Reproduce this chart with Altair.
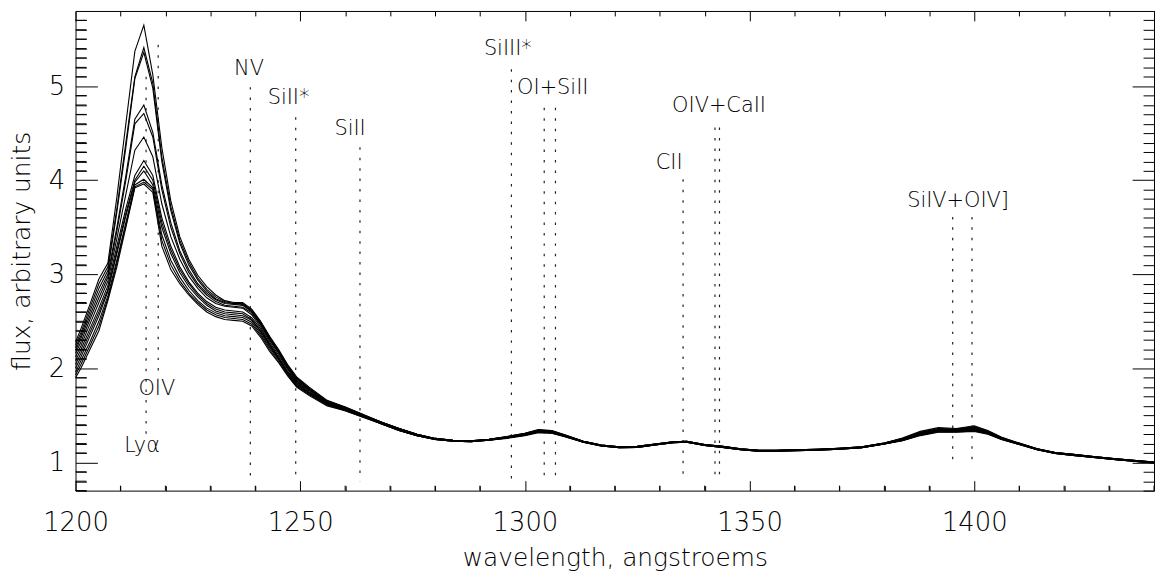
import altair as alt
import pandas as pd

# ---------------- data ----------------
wave_a = [1200, 1201.2, 1203.2, 1205.2, 1207.2, 1209.2, 1211.2, 1213.2, 1215.2, 1217.2,
          1219.2, 1221.2, 1223.2, 1225.2, 1227.2, 1229.2, 1231.2, 1233.2, 1235.2, 1237.2,
          1239.2, 1241.2, 1243.2, 1245.2, 1247.2, 1249.2, 1252, 1256, 1260, 1264]
wave_b = [1268, 1272, 1276, 1280, 1284, 1288, 1292]
wave_c = [1296, 1300, 1303, 1306, 1309]
wave_d = [1313, 1317, 1321, 1325, 1329, 1333, 1336, 1340, 1344, 1348, 1352, 1356,
          1360, 1365, 1370, 1375, 1380]
wave_e = [1384, 1388, 1392, 1396, 1400, 1403, 1406, 1410]
wave_f = [1414, 1418, 1422, 1426, 1431, 1436, 1440]
wave = wave_a + wave_b + wave_c + wave_d + wave_e + wave_f

# Ly-alpha / NV region, one list per spectrum
a01 = [2.28, 2.42, 2.68, 2.95, 3.12, 3.82, 4.60, 5.37, 5.65, 5.12, 4.35, 3.78, 3.40, 3.16, 2.99, 2.87, 2.78, 2.72, 2.70, 2.70, 2.63, 2.50, 2.34, 2.20, 2.04, 1.91, 1.80, 1.66, 1.59, 1.51]
a02 = [2.25, 2.38, 2.64, 2.90, 3.08, 3.70, 4.40, 5.10, 5.41, 5.03, 4.25, 3.72, 3.36, 3.13, 2.96, 2.84, 2.76, 2.71, 2.69, 2.69, 2.62, 2.49, 2.33, 2.19, 2.03, 1.90, 1.79, 1.65, 1.59, 1.51]
a03 = [2.22, 2.35, 2.60, 2.85, 3.04, 3.66, 4.35, 5.08, 5.36, 4.98, 4.20, 3.68, 3.33, 3.10, 2.94, 2.82, 2.74, 2.70, 2.69, 2.68, 2.61, 2.48, 2.32, 2.18, 2.02, 1.89, 1.78, 1.65, 1.58, 1.50]
a04 = [2.19, 2.32, 2.56, 2.80, 3.00, 3.50, 4.05, 4.65, 4.80, 4.51, 3.95, 3.55, 3.25, 3.05, 2.90, 2.80, 2.73, 2.69, 2.68, 2.67, 2.60, 2.47, 2.31, 2.17, 2.01, 1.88, 1.78, 1.64, 1.58, 1.50]
a05 = [2.16, 2.28, 2.52, 2.75, 2.97, 3.46, 4.00, 4.60, 4.71, 4.46, 3.90, 3.50, 3.22, 3.02, 2.88, 2.78, 2.71, 2.67, 2.66, 2.65, 2.59, 2.46, 2.30, 2.16, 2.00, 1.87, 1.77, 1.64, 1.58, 1.50]
a06 = [2.12, 2.24, 2.47, 2.70, 2.93, 3.38, 3.85, 4.32, 4.46, 4.25, 3.75, 3.40, 3.16, 2.98, 2.85, 2.75, 2.69, 2.66, 2.65, 2.64, 2.57, 2.44, 2.28, 2.14, 1.99, 1.86, 1.76, 1.63, 1.57, 1.50]
a07 = [2.08, 2.20, 2.42, 2.64, 2.88, 3.30, 3.70, 4.05, 4.21, 4.05, 3.60, 3.30, 3.08, 2.92, 2.80, 2.71, 2.65, 2.62, 2.61, 2.60, 2.54, 2.42, 2.26, 2.12, 1.97, 1.85, 1.75, 1.63, 1.57, 1.49]
a08 = [2.04, 2.16, 2.38, 2.60, 2.84, 3.25, 3.65, 4.00, 4.15, 4.00, 3.55, 3.26, 3.05, 2.90, 2.78, 2.69, 2.63, 2.60, 2.59, 2.58, 2.52, 2.40, 2.25, 2.11, 1.96, 1.84, 1.74, 1.62, 1.56, 1.49]
a09 = [2.00, 2.12, 2.34, 2.56, 2.82, 3.22, 3.62, 3.98, 4.10, 3.95, 3.50, 3.22, 3.02, 2.87, 2.76, 2.67, 2.61, 2.58, 2.57, 2.56, 2.51, 2.39, 2.24, 2.10, 1.95, 1.83, 1.74, 1.62, 1.56, 1.49]
a10 = [1.96, 2.08, 2.28, 2.50, 2.77, 3.15, 3.55, 3.95, 4.01, 3.92, 3.42, 3.15, 2.97, 2.83, 2.72, 2.64, 2.59, 2.56, 2.55, 2.54, 2.49, 2.37, 2.22, 2.09, 1.94, 1.82, 1.73, 1.61, 1.56, 1.49]
a11 = [1.93, 2.04, 2.24, 2.45, 2.74, 3.12, 3.52, 3.93, 3.98, 3.90, 3.36, 3.10, 2.93, 2.80, 2.70, 2.62, 2.57, 2.54, 2.53, 2.52, 2.47, 2.35, 2.20, 2.07, 1.93, 1.81, 1.72, 1.61, 1.55, 1.48]
a12 = [1.90, 2.00, 2.20, 2.40, 2.72, 3.08, 3.50, 3.92, 3.96, 3.87, 3.30, 3.05, 2.90, 2.78, 2.68, 2.60, 2.55, 2.52, 2.51, 2.50, 2.45, 2.33, 2.18, 2.06, 1.92, 1.80, 1.71, 1.60, 1.55, 1.48]

# smooth continuum pieces: upper / middle / lower members of the bundle
b_hi = [1.43, 1.36, 1.30, 1.255, 1.235, 1.23, 1.245]
b_mid = [1.42, 1.35, 1.29, 1.25, 1.23, 1.225, 1.24]
b_lo = [1.41, 1.34, 1.285, 1.245, 1.225, 1.22, 1.235]

# OI + SiII bump, one list per spectrum
c01 = [1.275, 1.31, 1.35, 1.34, 1.29]
c02 = [1.275, 1.31, 1.345, 1.335, 1.29]
c03 = [1.27, 1.305, 1.345, 1.33, 1.285]
c04 = [1.27, 1.305, 1.34, 1.33, 1.285]
c05 = [1.27, 1.30, 1.34, 1.325, 1.285]
c06 = [1.265, 1.30, 1.335, 1.325, 1.28]
c07 = [1.265, 1.30, 1.33, 1.32, 1.28]
c08 = [1.265, 1.295, 1.33, 1.32, 1.28]
c09 = [1.26, 1.295, 1.325, 1.315, 1.275]
c10 = [1.26, 1.29, 1.325, 1.315, 1.275]
c11 = [1.26, 1.29, 1.32, 1.31, 1.275]
c12 = [1.255, 1.285, 1.315, 1.31, 1.27]

d_hi = [1.225, 1.185, 1.165, 1.17, 1.195, 1.22, 1.225, 1.19, 1.17, 1.145, 1.13, 1.13, 1.135, 1.14, 1.15, 1.165, 1.205]
d_mid = [1.22, 1.18, 1.16, 1.165, 1.19, 1.215, 1.22, 1.185, 1.165, 1.14, 1.125, 1.125, 1.13, 1.135, 1.145, 1.16, 1.20]
d_lo = [1.215, 1.175, 1.155, 1.16, 1.185, 1.21, 1.215, 1.18, 1.16, 1.135, 1.12, 1.12, 1.125, 1.13, 1.14, 1.155, 1.195]

# SiIV + OIV] bump, one list per spectrum
e01 = [1.26, 1.33, 1.37, 1.36, 1.39, 1.34, 1.27, 1.205]
e02 = [1.255, 1.32, 1.36, 1.355, 1.38, 1.335, 1.265, 1.205]
e03 = [1.25, 1.32, 1.355, 1.35, 1.375, 1.33, 1.265, 1.20]
e04 = [1.25, 1.315, 1.35, 1.35, 1.37, 1.33, 1.26, 1.20]
e05 = [1.245, 1.31, 1.345, 1.345, 1.365, 1.325, 1.26, 1.20]
e06 = [1.245, 1.31, 1.345, 1.34, 1.36, 1.32, 1.26, 1.20]
e07 = [1.24, 1.305, 1.34, 1.34, 1.355, 1.32, 1.255, 1.195]
e08 = [1.24, 1.30, 1.335, 1.335, 1.35, 1.315, 1.255, 1.195]
e09 = [1.235, 1.30, 1.335, 1.33, 1.345, 1.315, 1.25, 1.195]
e10 = [1.235, 1.295, 1.33, 1.33, 1.34, 1.31, 1.25, 1.19]
e11 = [1.23, 1.29, 1.325, 1.325, 1.335, 1.305, 1.245, 1.19]
e12 = [1.23, 1.285, 1.32, 1.32, 1.33, 1.30, 1.245, 1.19]

f_hi = [1.145, 1.105, 1.085, 1.065, 1.04, 1.02, 1.005]
f_mid = [1.14, 1.10, 1.08, 1.06, 1.035, 1.015, 1.00]
f_lo = [1.135, 1.095, 1.075, 1.055, 1.03, 1.01, 0.995]

spectra = {
    "s01": a01 + b_hi + c01 + d_hi + e01 + f_hi,
    "s02": a02 + b_hi + c02 + d_hi + e02 + f_hi,
    "s03": a03 + b_hi + c03 + d_hi + e03 + f_hi,
    "s04": a04 + b_hi + c04 + d_hi + e04 + f_hi,
    "s05": a05 + b_mid + c05 + d_mid + e05 + f_mid,
    "s06": a06 + b_mid + c06 + d_mid + e06 + f_mid,
    "s07": a07 + b_mid + c07 + d_mid + e07 + f_mid,
    "s08": a08 + b_mid + c08 + d_mid + e08 + f_mid,
    "s09": a09 + b_lo + c09 + d_lo + e09 + f_lo,
    "s10": a10 + b_lo + c10 + d_lo + e10 + f_lo,
    "s11": a11 + b_lo + c11 + d_lo + e11 + f_lo,
    "s12": a12 + b_lo + c12 + d_lo + e12 + f_lo,
}

# line identifications (dotted markers)
mark_wave = [1215.7, 1218.4, 1238.9, 1249.0, 1263.3, 1297.0, 1304.3, 1306.8,
             1335.2, 1342.3, 1343.3, 1395.2, 1399.5]
mark_top = [5.10, 5.44, 4.99, 4.67, 4.35, 5.18, 4.77, 4.77, 4.01, 4.56, 4.56, 3.61, 3.61]
mark_bottom = [1.30, 1.89, 0.80, 0.80, 0.80, 0.80, 0.80, 0.80, 0.80, 0.80, 0.80, 1.03, 1.03]

label_text = ["Lyα", "OIV", "NV", "SiII*", "SiII", "SiIII*", "OI+SiII", "CII",
              "OIV+CaII", "SiIV+OIV]"]
label_wave = [1214.8, 1218.1, 1238.6, 1247.4, 1261.1, 1296.2, 1306.2, 1332.1,
              1343.2, 1396.4]
label_flux = [1.17, 1.78, 5.18, 4.87, 4.54, 5.39, 4.98, 4.18, 4.79, 3.78]

# tick positions (major and minor together; minor ones drawn at half length)
x_ticks = list(range(1200, 1441, 10))
y_ticks = [round(v / 10, 1) for v in range(7, 58)]
x_minor = [v for v in x_ticks if v % 50 != 0]
y_minor = [v for v in y_ticks if v % 1 != 0]

# ---------------- tables ----------------
rows = []
for name, vals in spectra.items():
    for w, f in zip(wave, vals):
        rows.append({"wave": w, "flux": f, "spec": name})
spec_df = pd.DataFrame(rows)
mark_df = pd.DataFrame({"wave": mark_wave, "top": mark_top, "bottom": mark_bottom})
label_df = pd.DataFrame({"wave": label_wave, "flux": label_flux, "text": label_text})
xminor_df = pd.DataFrame({"wave": x_minor})
yminor_df = pd.DataFrame({"flux": y_minor})

FONT = "DejaVu Sans"
W, H = 1086, 483
xs = alt.Scale(domain=[1200, 1440], nice=False, zero=False)
ys = alt.Scale(domain=[0.7, 5.8], nice=False, zero=False)


def x_axis(orient, labels):
    extra = dict(labelPadding=19, labelFlush=False, labelFontSize=26, format="d",
                 labelExpr="datum.value % 50 === 0 ? datum.label : ''",
                 titleFontSize=25, titlePadding=10) if labels else dict(labels=False)
    return alt.Axis(orient=orient, values=x_ticks, tickSize=10, offset=-10,
                    domain=False, grid=False, tickColor="black", tickWidth=1,
                    labelOverlap=False,
                    tickDash={"condition": {"test": "datum.value % 50 !== 0",
                                            "value": [0, 5, 5]},
                              "value": [10, 0]},
                    **extra)


def y_axis(orient, labels):
    extra = dict(labelPadding=11, labelFontSize=26,
                 labelExpr="datum.value % 1 === 0 ? format(datum.value, 'd') : ''",
                 titleFontSize=25, titlePadding=14) if labels else dict(labels=False)
    return alt.Axis(orient=orient, values=y_ticks, tickSize=22, offset=-22,
                    domain=False, grid=False, tickColor="black", tickWidth=1,
                    labelOverlap=False,
                    tickDash={"condition": {"test": "datum.value % 1 !== 0",
                                            "value": [0, 11, 11]},
                              "value": [22, 0]},
                    **extra)


rules = alt.Chart(mark_df).mark_rule(
    color="#222", strokeWidth=1.2, strokeDash=[2.5, 8]
).encode(
    x=alt.X("wave:Q", scale=xs, title="", axis=x_axis("top", False)),
    y=alt.Y("top:Q", scale=ys, title="", axis=y_axis("right", False)),
    y2="bottom:Q",
)

lines = alt.Chart(spec_df).mark_line(color="black", strokeWidth=1.1).encode(
    x=alt.X("wave:Q", scale=xs, title="wavelength, angstroems", axis=x_axis("bottom", True)),
    y=alt.Y("flux:Q", scale=ys, title="flux, arbitrary units", axis=y_axis("left", True)),
    detail="spec:N",
)

texts = alt.Chart(label_df).mark_text(
    font=FONT, fontSize=21, fontWeight=200, color="black", align="center", baseline="middle"
).encode(
    x=alt.X("wave:Q", scale=xs, axis=None),
    y=alt.Y("flux:Q", scale=ys, axis=None),
    text="text:N",
)

# minor ticks on the lower and left frame edges (inward, half length)
left_minor = alt.Chart(yminor_df).mark_rule(color="black", strokeWidth=1).encode(
    y=alt.Y("flux:Q", scale=ys, axis=None),
    x=alt.value(0), x2=alt.value(11),
)
bottom_minor = alt.Chart(xminor_df).mark_rule(color="black", strokeWidth=1).encode(
    x=alt.X("wave:Q", scale=xs, axis=None),
    y=alt.value(H), y2=alt.value(H - 5),
)

chart = alt.layer(rules, lines, texts, left_minor, bottom_minor).resolve_axis(
    x="independent", y="independent"
).properties(
    width=W, height=H,
    autosize=alt.AutoSizeParams(type="none"),
    padding={"left": 68, "top": 1, "right": 2, "bottom": 84},
).configure_view(
    stroke="black", strokeWidth=1
).configure_axis(
    labelFont=FONT, titleFont=FONT, labelFontWeight=200, titleFontWeight=200,
    labelColor="black", titleColor="black",
)

chart.save("out.html", embed_options={"renderer": "svg", "actions": False})
